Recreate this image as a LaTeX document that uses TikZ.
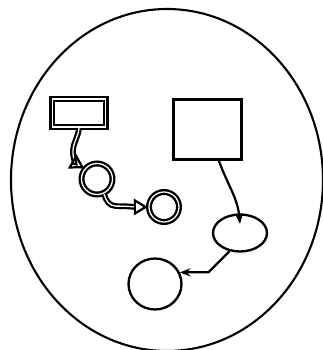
\documentclass[tikz,border=0pt]{standalone}
\usetikzlibrary{shapes.geometric,arrows.meta}
\tikzset{
  sarr/.style={-{Stealth[length=9pt,width=7pt]},line width=1.9pt},
  darr/.style={-{Triangle[open,length=12pt,width=14pt]},double,double distance=1.1pt,line width=1.9pt},
}

\begin{document}
\begin{tikzpicture}[
  x=0.03cm,y=0.03cm,
  sbox/.style={rectangle,draw,line width=2.2pt,inner sep=0pt},
  dbox/.style={rectangle,draw,double,double distance=1.1pt,line width=2pt,inner sep=0pt},
  dcirc/.style={circle,draw,double,double distance=1.1pt,line width=2pt,inner sep=0pt},
  sell/.style={ellipse,draw,line width=2pt,inner sep=0pt},
]
\useasboundingbox (0,0) rectangle (322,350);

% outer boundary
\draw[line width=1.8pt] (167,170) ellipse [x radius=156,y radius=171];

% left chain (double lines)
\node[dbox,minimum width=1.6cm,minimum height=0.84cm] (rA) at (79,237) {};
\node[dcirc,minimum size=0.93cm] (cA) at (97,171) {};
\node[dcirc,minimum size=0.9cm] (cB) at (164,143) {};

% right chain (single lines)
\node[sbox,minimum width=2.04cm,minimum height=1.8cm] (sq) at (207.5,220.5) {};
\node[sell,minimum width=1.62cm,minimum height=1.11cm] (eR) at (240,117) {};
\node[sell,minimum width=1.59cm,minimum height=1.53cm] (cC) at (155,66) {};

% connectors
\draw[darr] (rA.south) to[out=-95,in=85] ++(-6,-22) to[out=-95,in=150] (cA.140);
\draw[darr] (cA.-65) to[out=-75,in=180] ++(12,-12) to[out=0,in=180] (cB.west);
\draw[sarr] (sq.290) to[out=-70,in=95] ([yshift=-9pt]eR.north);
\draw[sarr] (eR.240) -- ++(-21,-21) -- (cC.25);
\end{tikzpicture}
\end{document}
